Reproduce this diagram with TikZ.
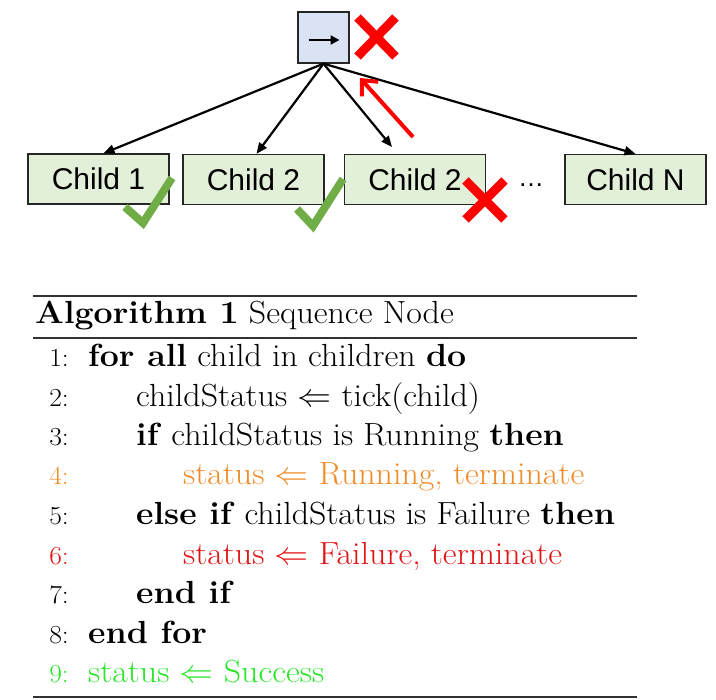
\RequirePackage{fix-cm}
\documentclass[tikz,border=0pt]{standalone}
\usepackage{fontspec}
\usepackage{graphicx}
\newfontfamily\arialf{Liberation Sans}
\usetikzlibrary{arrows.meta,calc}
\definecolor{pfill}{RGB}{218,227,243}
\definecolor{cfill}{RGB}{226,240,217}
\definecolor{ckgreen}{RGB}{112,173,71}
\definecolor{xred}{RGB}{255,0,0}
\definecolor{algorange}{RGB}{240,140,40}
\definecolor{algred}{RGB}{225,20,20}
\definecolor{alggreen}{RGB}{40,230,40}
\definecolor{rulegray}{RGB}{50,50,50}
\newcommand{\hstretch}[1]{\scalebox{1.06}[1]{#1}}
\tikzset{
  parentbox/.style={draw=black!85, line width=1.3pt, fill=pfill, minimum width=51pt, minimum height=51pt, inner sep=0pt},
  childbox/.style={draw=black!85, line width=1.3pt, fill=cfill, minimum width=141pt, minimum height=50pt, inner sep=0pt, font=\arialf\fontsize{30}{36}\selectfont},
  link/.style={line width=2.2pt, -{Triangle[length=11pt,width=9pt]}},
  redlink/.style={xred, line width=4pt, -{Straight Barb[length=12pt,width=22pt]}},
  checkmk/.style={ckgreen, line width=8pt, line join=miter},
  crossmk/.style={xred, line width=9pt},
  algtext/.style={anchor=base west, inner sep=0pt, font=\fontsize{32}{38}\selectfont},
  algnum/.style={anchor=base east, inner sep=0pt, font=\fontsize{26}{30}\selectfont},
  rulethick/.style={rulegray, line width=2.2pt},
  rulethin/.style={rulegray, line width=1.2pt}
}
\begin{document}
\begin{tikzpicture}[x=1pt,y=-1pt]
\useasboundingbox (0,0) rectangle (716,700);
% tree
\node[parentbox] (p) at (323.5,37.5) {};
\draw[line width=2.5pt, -{Triangle[length=9pt,width=9pt]}] ($(p.center)+(-15,2.5)$) -- ($(p.center)+(16,2.5)$);
\node[childbox] (c1) at (98.5,179) {Child 1};
\node[childbox] (c2) at (253.5,179.5) {Child 2};
\node[childbox] (c3) at (415,179.5) {Child 2};
\node[childbox] (cN) at (635.5,179.5) {Child N};
\node[font=\arialf\fontsize{26}{30}\selectfont, inner sep=0pt] (dots) at (531,185) {…};
\coordinate (e3) at (392,147);
\draw[link] (p.south) -- ($(c1.north)+(5,0)$);
\draw[link] (p.south) -- ($(c2.north)+(3,0)$);
\draw[link] (p.south) -- (e3);
\draw[link] (p.south) -- (cN.north);
\coordinate (rt) at (413,137);
\coordinate (rh) at (360,78);
\draw[redlink] (rt) -- (rh);
% crosses
\draw[crossmk] (357.5,17.5) -- (395.5,56.5) (395.5,17.5) -- (357.5,56.5);
\draw[crossmk] (465.5,180.5) -- (504.5,219.5) (504.5,180.5) -- (465.5,219.5);
% checks
\draw[checkmk] (125,207) -- (143,223) -- (172,178);
\draw[checkmk] (297,209) -- (313,226) -- (343,179);
% algorithm
\draw[rulethick] (33,296) -- (637,296);
\node[algtext] (title) at (35,324) {\hstretch{\textbf{Algorithm 1} Sequence Node}};
\draw[rulethin] (33,338) -- (637,338);
\node[algnum] (n1) at (69,367) {\hstretch{1:}};
\node[algtext] (l1) at (88,367) {\hstretch{\textbf{for all} child in children \textbf{do}}};
\node[algnum] (n2) at (69,407) {\hstretch{2:}};
\node[algtext] (l2) at (136,407) {\hstretch{childStatus $\Leftarrow$ tick(child)}};
\node[algnum] (n3) at (69,446) {\hstretch{3:}};
\node[algtext] (l3) at (136,446) {\hstretch{\textbf{if} childStatus is Running \textbf{then}}};
\node[algnum, text=algorange] (n4) at (69,485) {\hstretch{4:}};
\node[algtext, text=algorange] (l4) at (183,485) {\hstretch{status $\Leftarrow$ Running, terminate}};
\node[algnum] (n5) at (69,525) {\hstretch{5:}};
\node[algtext] (l5) at (136,525) {\hstretch{\textbf{else if} childStatus is Failure \textbf{then}}};
\node[algnum, text=algred] (n6) at (69,565) {\hstretch{6:}};
\node[algtext, text=algred] (l6) at (183,565) {\hstretch{status $\Leftarrow$ Failure, terminate}};
\node[algnum] (n7) at (69,604) {\hstretch{7:}};
\node[algtext] (l7) at (136,604) {\hstretch{\textbf{end if}}};
\node[algnum] (n8) at (69,644) {\hstretch{8:}};
\node[algtext] (l8) at (88,644) {\hstretch{\textbf{end for}}};
\node[algnum, text=alggreen] (n9) at (69,683) {\hstretch{9:}};
\node[algtext, text=alggreen] (l9) at (88,683) {\hstretch{status $\Leftarrow$ Success}};
\draw[rulethick] (33,697) -- (637,697);
\end{tikzpicture}
\end{document}
